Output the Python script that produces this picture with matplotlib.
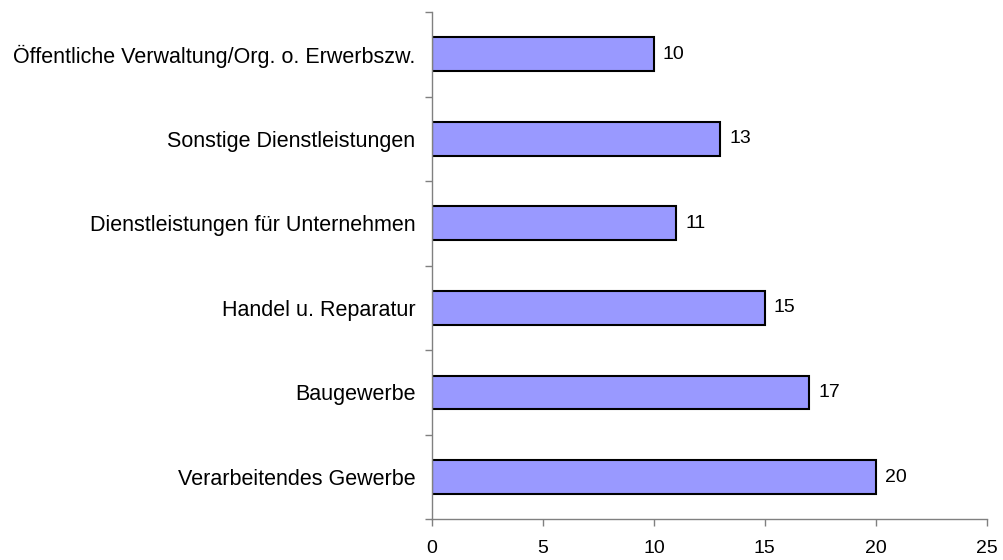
import matplotlib
matplotlib.use("Agg")
import matplotlib.pyplot as plt

categories = [
    "Verarbeitendes Gewerbe",
    "Baugewerbe",
    "Handel u. Reparatur",
    "Dienstleistungen für Unternehmen",
    "Sonstige Dienstleistungen",
    "Öffentliche Verwaltung/Org. o. Erwerbszw.",
]
values = [20, 17, 15, 11, 13, 10]
x_ticks = [0, 5, 10, 15, 20, 25]

plt.rcParams["font.family"] = ["Liberation Sans", "DejaVu Sans"]

fig = plt.figure(figsize=(10.04, 5.6), dpi=100)
ax = fig.add_axes([432 / 1004, 1 - 519.3 / 560, (986.7 - 432) / 1004, (519.3 - 12) / 560])

pos = list(range(len(categories)))
ax.barh(pos, values, height=0.4, color="#9999FF", edgecolor="black", linewidth=1.5)

for p, v in zip(pos, values):
    ax.annotate(str(v), xy=(v, p), xytext=(9, 0), textcoords="offset pixels",
                va="center", ha="left", fontsize=14)

ax.set_xlim(0, 25)
ax.set_ylim(-0.5, len(categories) - 0.5)
ax.set_xticks(x_ticks)
ax.set_xticklabels([str(t) for t in x_ticks], fontsize=14)

# category labels sit between the tick marks, as in Excel
ax.set_yticks(pos)
ax.set_yticklabels(categories, fontsize=15.5)
ax.tick_params(axis="y", which="major", length=0, pad=12)
ax.set_yticks([p - 0.5 for p in pos] + [len(pos) - 0.5], minor=True)
ax.tick_params(axis="y", which="minor", length=5, width=1, color="#808080")
ax.tick_params(axis="x", length=5, width=1, color="#808080", pad=10)

for s in ["top", "right"]:
    ax.spines[s].set_visible(False)
for s in ["left", "bottom"]:
    ax.spines[s].set_color("#808080")
    ax.spines[s].set_linewidth(1)

fig.savefig("out.png", dpi=100)
